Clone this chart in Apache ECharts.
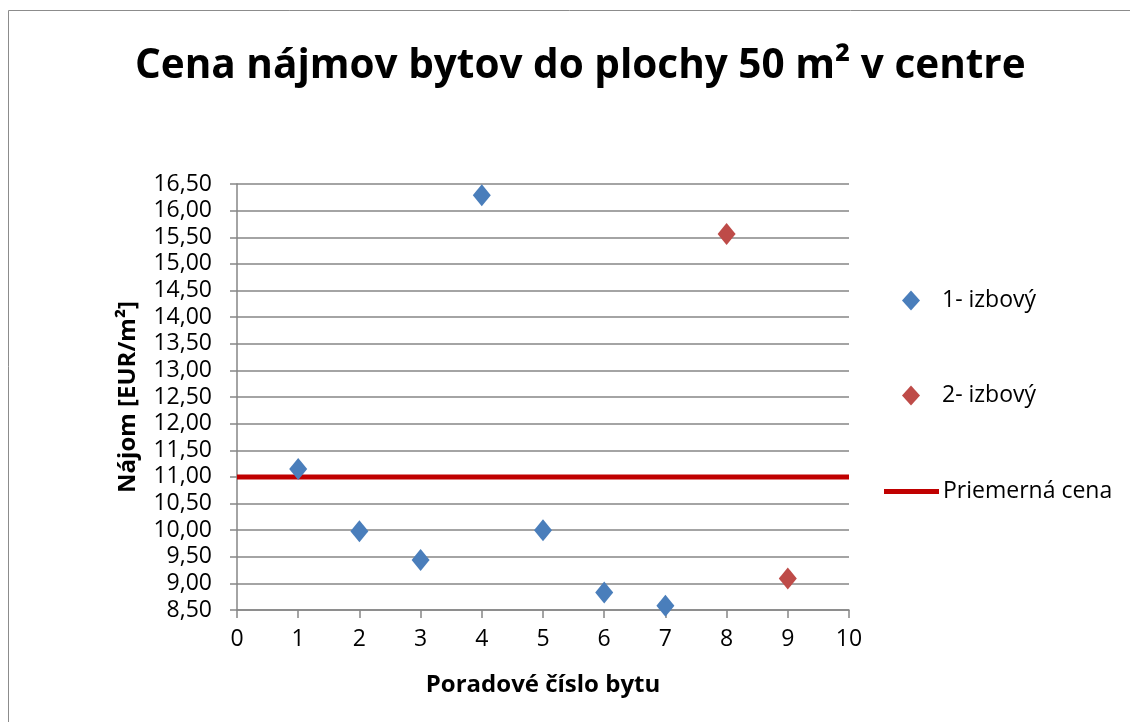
<!DOCTYPE html>
<html>
<head>
<meta charset="utf-8">
<script src="https://cdn.jsdelivr.net/npm/echarts@6/dist/echarts.min.js"></script>
<style>
  html, body { margin: 0; padding: 0; background: #fff; }
  #chart { width: 1130px; height: 722px; }
</style>
</head>
<body>
<div id="chart"></div>
<script>
// poradové čísla bytov a nájom (EUR/m2)
var flatNo1 = [1, 2, 3, 4, 5, 6, 7];
var rent1 = [11.15, 9.98, 9.44, 16.29, 10.0, 8.83, 8.58];
var flatNo2 = [8, 9];
var rent2 = [15.56, 9.09];
var avgX = [0, 10];
var avgRent = 11.0;

var FONT = "'Open Sans', sans-serif";
var chart = echarts.init(document.getElementById("chart"));

function pairs(xs, ys) {
  return xs.map(function (x, i) { return [x, ys[i]]; });
}

var legendBase = {
  orient: "vertical",
  itemGap: 0,
  padding: 0,
  textStyle: { fontFamily: FONT, fontSize: 23, color: "#000" },
};

chart.setOption({
  animation: false,
  backgroundColor: "#fff",
  graphic: [
    {
      type: "rect",
      shape: { x: 8.5, y: 10.5, width: 1200, height: 800 },
      style: { fill: "none", stroke: "#8c8c8c", lineWidth: 1 },
    },
  ],
  title: {
    text: "Cena nájmov bytov do plochy 50 m² v centre",
    left: 130,
    top: 41,
    textStyle: { fontFamily: FONT, fontSize: 40.5, fontWeight: "bold", color: "#000" },
  },
  legend: [
    Object.assign({}, legendBase, {
      data: [{ name: "1- izbový", icon: "diamond" }],
      left: 902,
      top: 289,
      itemWidth: 18,
      itemHeight: 20,
      textStyle: Object.assign({}, legendBase.textStyle, { padding: [0, 0, 0, 17] }),
    }),
    Object.assign({}, legendBase, {
      data: [{ name: "2- izbový", icon: "diamond" }],
      left: 902,
      top: 384,
      itemWidth: 18,
      itemHeight: 20,
      textStyle: Object.assign({}, legendBase.textStyle, { padding: [0, 0, 0, 17] }),
    }),
    Object.assign({}, legendBase, {
      data: [{ name: "Priemerná cena", icon: "rect" }],
      left: 884,
      top: 480,
      itemWidth: 55,
      itemHeight: 5,
      textStyle: Object.assign({}, legendBase.textStyle, { padding: [0, 0, 0, -1] }),
    }),
  ],
  grid: { left: 237, right: 281, top: 184, bottom: 112 },
  xAxis: {
    type: "value",
    min: 0,
    max: 10,
    interval: 1,
    name: "Poradové číslo bytu",
    nameLocation: "middle",
    nameGap: 63,
    nameTextStyle: { fontFamily: FONT, fontSize: 24, fontWeight: "bold", color: "#000" },
    axisLine: { show: true, lineStyle: { color: "#868686", width: 1.5 } },
    axisTick: { show: true, length: 8, lineStyle: { color: "#868686", width: 1.5 } },
    axisLabel: { fontFamily: FONT, fontSize: 23, color: "#000", margin: 18 },
    splitLine: { show: false },
  },
  yAxis: {
    type: "value",
    min: 8.5,
    max: 16.5,
    interval: 0.5,
    name: "Nájom [EUR/m²]",
    nameLocation: "middle",
    nameRotate: 90,
    nameGap: 97,
    nameTextStyle: { fontFamily: FONT, fontSize: 24, fontWeight: "bold", color: "#000" },
    axisLine: { show: true, lineStyle: { color: "#868686", width: 1.5 } },
    axisTick: { show: true, length: 7, lineStyle: { color: "#868686", width: 1.5 } },
    axisLabel: {
      fontFamily: FONT,
      fontSize: 23,
      color: "#000",
      margin: 25,
      formatter: function (v) { return v.toFixed(2).replace(".", ","); },
    },
    splitLine: { show: true, lineStyle: { color: "#868686", width: 1.5 } },
  },
  series: [
    {
      name: "Priemerná cena",
      type: "line",
      data: pairs(avgX, [avgRent, avgRent]),
      symbol: "none",
      color: "#C00000",
      lineStyle: { color: "#C00000", width: 5 },
      z: 2,
    },
    {
      name: "1- izbový",
      type: "scatter",
      data: pairs(flatNo1, rent1),
      symbol: "diamond",
      symbolSize: [18, 22],
      itemStyle: { color: "#4A7EBB", opacity: 1 },
      z: 3,
    },
    {
      name: "2- izbový",
      type: "scatter",
      data: pairs(flatNo2, rent2),
      symbol: "diamond",
      symbolSize: [18, 22],
      itemStyle: { color: "#BE4B48", opacity: 1 },
      z: 3,
    },
  ],
});
</script>
</body>
</html>
